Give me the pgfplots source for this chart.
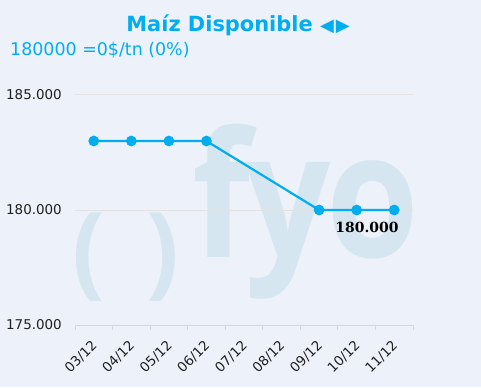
\documentclass[border=0pt]{standalone}
\usepackage{pgfplots}
\pgfplotsset{compat=1.18}
\usepackage{fontspec}
\setmainfont{DejaVu Sans}
\newfontfamily\dvserif{DejaVu Serif}
\newfontfamily\osans{Open Sans}
\definecolor{bgc}{HTML}{EDF1FA}
\definecolor{cy}{HTML}{00AEEF}
\definecolor{wm}{HTML}{D6E6F1}
\definecolor{gridc}{HTML}{E2E2E2}
\definecolor{axc}{HTML}{D8D8D8}
\begin{document}
\begin{tikzpicture}[x=1bp,y=1bp]
\fill[bgc] (0,0) rectangle (481,387);
\node[text=wm, font=\osans\fontsize{102}{102}\selectfont\bfseries, anchor=base west, inner sep=0pt, xscale=0.95] at (72,102) {(};
\node[text=wm, font=\osans\fontsize{102}{102}\selectfont\bfseries, anchor=base west, inner sep=0pt, xscale=0.95] at (146,102) {)};
\node[text=wm, font=\osans\fontsize{175}{175}\selectfont\bfseries, anchor=base west, inner sep=0pt, xscale=0.86] at (192,130) {f\kern-6bp y\kern-4bp o};
\node[text=cy, font=\fontsize{21}{21}\selectfont\bfseries, anchor=base, inner sep=0pt] at (238,356) {Maíz Disponible {\fontsize{18}{18}\selectfont◀\hspace{2bp}▶}};
\node[text=cy, font=\fontsize{17.5}{17.5}\selectfont, anchor=base west, inner sep=0pt] at (10,332) {180000 =0\$/tn (0\%)};
\begin{axis}[at={(75bp,62bp)}, anchor=south west, scale only axis,
  width=338bp, height=230bp,
  xmin=0, xmax=9, ymin=175000, ymax=185000,
  scaled y ticks=false,
  xtick={0,1,2,3,4,5,6,7,8,9},
  x tick label as interval,
  xticklabels={03/12,04/12,05/12,06/12,07/12,08/12,09/12,10/12,11/12},
  ytick={175000,180000,185000},
  yticklabels={175.000,180.000,185.000},
  axis lines*=left,
  x axis line style={draw=axc, line width=1bp},
  y axis line style={draw=none},
  ytick style={draw=none},
  xtick style={draw=axc, line width=1bp},
  tick align=outside,
  major tick length=5bp,
  ymajorgrids,
  grid style={draw=gridc, line width=1bp},
  ticklabel style={font=\fontsize{13.5}{13.5}\selectfont, text=black!88},
  yticklabel style={anchor=east, inner sep=0pt, xshift=-8bp},
  xticklabel style={xshift=1bp, yshift=-13bp, rotate=45, anchor=east, inner sep=0pt},
  clip=false,
]
\addplot[cy, line width=2.2bp, mark=*, mark size=4.2bp, mark options={fill=cy, draw=none}]
  coordinates {(0.5,183000)(1.5,183000)(2.5,183000)(3.5,183000)(6.5,180000)(7.5,180000)(8.5,180000)};
\node[font=\dvserif\fontsize{14}{14}\selectfont\bfseries, anchor=base, text=black, inner sep=0pt, yshift=-22.7bp] at (axis cs:7.775,180000) {180.000};
\end{axis}
\end{tikzpicture}
\end{document}
